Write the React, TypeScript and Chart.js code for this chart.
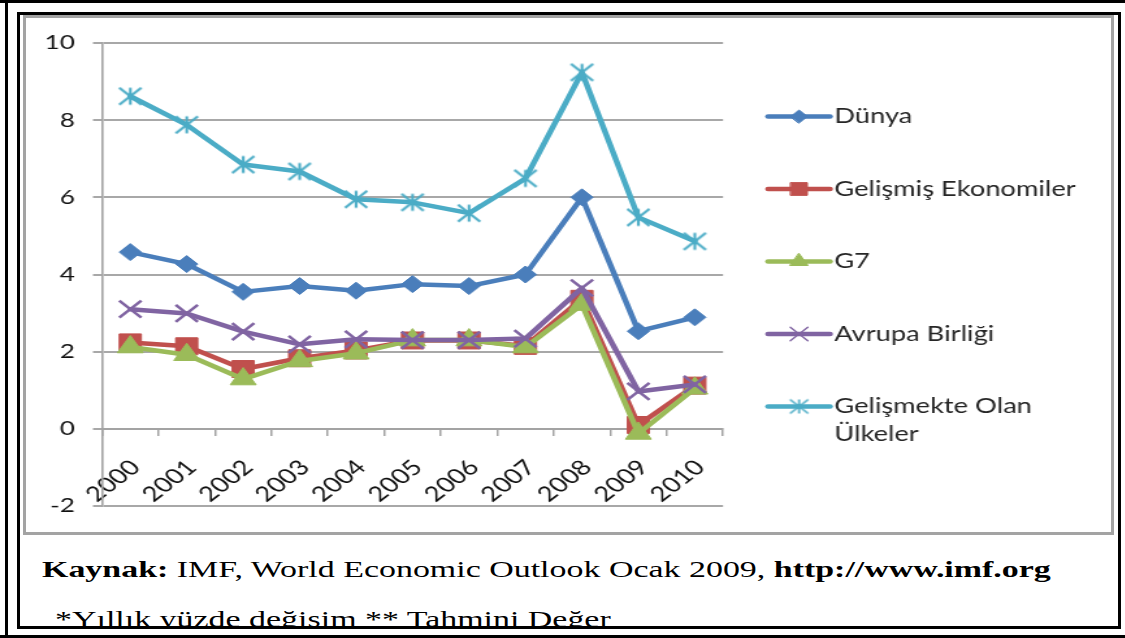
import React, { useEffect, useRef } from "react";
import { Chart, registerables } from "chart.js";
import { drawPoint } from "chart.js/helpers";

Chart.register(...registerables);

// Yıllık büyüme oranları (%), 2000–2010
const years = ["2000", "2001", "2002", "2003", "2004", "2005", "2006", "2007", "2008", "2009", "2010"];
const dunya = [4.58, 4.27, 3.55, 3.7, 3.58, 3.75, 3.7, 4.0, 6.0, 2.53, 2.89];
const gelismis = [2.24, 2.14, 1.55, 1.83, 2.03, 2.29, 2.29, 2.15, 3.37, 0.1, 1.12];
const g7 = [2.12, 1.92, 1.29, 1.76, 1.96, 2.3, 2.3, 2.12, 3.22, -0.12, 1.05];
const avrupa = [3.1, 2.99, 2.52, 2.19, 2.32, 2.3, 2.3, 2.34, 3.65, 0.97, 1.15];
const gelismekte = [8.62, 7.88, 6.85, 6.67, 5.95, 5.87, 5.59, 6.49, 9.24, 5.48, 4.86];
const yTicks = [-2, 0, 2, 4, 6, 8, 10];

const seriesNames = ["Dünya", "Gelişmiş Ekonomiler", "G7", "Avrupa Birliği", "Gelişmekte Olan Ülkeler"];
const legendLines = [["Dünya"], ["Gelişmiş Ekonomiler"], ["G7"], ["Avrupa Birliği"], ["Gelişmekte Olan", "Ülkeler"]];
const colors = ["#4A7EBB", "#C0504D", "#9BBB59", "#8064A2", "#4BACC6"];

const FONT = "Lato, Carlito, Calibri, sans-serif";
const CHART_SX = 1.3; // horizontal stretch of the embedded chart picture
const TEXT_SX = 1.475; // horizontal stretch of the source lines
const CW = 835;
const CH = 515;

function makeStar(color: string, half: number, lw: number): HTMLCanvasElement {
  const size = Math.ceil(half * 2 + lw * 2);
  const c = document.createElement("canvas");
  c.width = size;
  c.height = size;
  const g = c.getContext("2d")!;
  const m = size / 2;
  g.strokeStyle = color;
  g.lineWidth = lw;
  g.lineCap = "butt";
  g.beginPath();
  g.moveTo(m - half, m - half);
  g.lineTo(m + half, m + half);
  g.moveTo(m + half, m - half);
  g.lineTo(m - half, m + half);
  g.moveTo(m, m - half);
  g.lineTo(m, m + half);
  g.stroke();
  return c;
}

export default function App() {
  const canvasRef = useRef<HTMLCanvasElement | null>(null);

  useEffect(() => {
    const canvas = canvasRef.current;
    if (!canvas) return;

    const starBig = makeStar(colors[4], 8.5, 2.2);
    const starSmall = makeStar(colors[4], 7, 1.6);

    const pointStyles: any[] = ["rectRot", "rect", "triangle", "crossRot", starBig];
    const pointRadii = [8.5, 12, 11.5, 12, 10];
    const pointBorders = [1, 1, 1, 2.5, 1];

    const legendMarkers = [
      { style: "rectRot", radius: 6.5, borderWidth: 1 },
      { style: "rect", radius: 9, borderWidth: 1 },
      { style: "triangle", radius: 8, borderWidth: 1 },
      { style: "crossRot", radius: 9.5, borderWidth: 1.4 },
      { style: starSmall, radius: 8, borderWidth: 0 },
    ];

    const series = [dunya, gelismis, g7, avrupa, gelismekte];

    const sideLegend = {
      id: "sideLegend",
      afterDraw(chart: any) {
        const { ctx, chartArea } = chart;
        const x0 = chartArea.right + 34.6;
        const x1 = chartArea.right + 82.3;
        const tx = chartArea.right + 85.5;
        chart.data.datasets.forEach((ds: any, i: number) => {
          const y = chartArea.top + 73.5 + i * 72.5;
          const color = ds.borderColor as string;
          ctx.save();
          ctx.strokeStyle = color;
          ctx.fillStyle = color;
          ctx.lineWidth = 4.5;
          ctx.lineCap = "round";
          ctx.beginPath();
          ctx.moveTo(x0, y);
          ctx.lineTo(x1, y);
          ctx.stroke();
          const mk = legendMarkers[i];
          ctx.lineWidth = mk.borderWidth;
          drawPoint(
            ctx,
            { pointStyle: mk.style as any, radius: mk.radius, rotation: 0, borderWidth: mk.borderWidth },
            (x0 + x1) / 2,
            y
          );
          ctx.fillStyle = "#262626";
          ctx.font = `21px ${FONT}`;
          ctx.textAlign = "left";
          ctx.textBaseline = "middle";
          legendLines[i].forEach((t, k) => ctx.fillText(t, tx, y + k * 28));
          ctx.restore();
        });
      },
    };

    const chart = new Chart(canvas, {
      type: "line",
      data: {
        labels: years,
        datasets: series.map((data, i) => ({
          label: seriesNames[i],
          data,
          borderColor: colors[i],
          backgroundColor: colors[i],
          borderWidth: 4.5,
          borderJoinStyle: "round" as const,
          borderCapStyle: "round" as const,
          tension: 0,
          pointStyle: pointStyles[i],
          pointRadius: pointRadii[i],
          pointHoverRadius: pointRadii[i],
          pointBackgroundColor: colors[i],
          pointBorderColor: colors[i],
          pointBorderWidth: pointBorders[i],
          order: series.length - i,
          clip: false as any,
        })),
      },
      options: {
        responsive: false,
        animation: false,
        devicePixelRatio: 1,
        layout: { padding: { left: 0, top: 25.5, right: CW - 536.2, bottom: 24 } },
        plugins: {
          legend: { display: false },
          tooltip: { enabled: false },
          title: { display: false },
        },
        scales: {
          x: {
            type: "category",
            position: { y: 0 } as any,
            offset: true,
            afterFit: (s: any) => {
              s.height = 0;
            },
            grid: {
              offset: true,
              drawOnChartArea: false,
              drawTicks: true,
              tickLength: 6,
              color: "#a3a3a3",
              lineWidth: 1.5,
            },
            border: { display: true, color: "#a3a3a3", width: 2 },
            ticks: {
              autoSkip: false,
              minRotation: 45,
              maxRotation: 45,
              padding: 20,
              labelOffset: 4,
              color: "#111",
              font: { family: FONT, size: 21 },
            },
          },
          y: {
            type: "linear",
            min: -2,
            max: 10,
            afterFit: (s: any) => {
              s.width = 58.5;
            },
            afterBuildTicks: (s: any) => {
              s.ticks = yTicks.map((v) => ({ value: v }));
            },
            grid: {
              color: "#a8a8a8",
              lineWidth: 2,
              drawTicks: true,
              tickLength: 7,
            },
            border: { display: true, color: "#a3a3a3", width: 1.6 },
            ticks: {
              padding: 14,
              color: "#111",
              font: { family: FONT, size: 20 },
            },
          },
        },
      },
      plugins: [sideLegend],
    });

    return () => chart.destroy();
  }, []);

  const serif = '"Liberation Serif", "Times New Roman", serif';

  return (
    <div
      style={{
        position: "absolute",
        left: 0,
        top: 0,
        width: 1125,
        height: 638,
        overflow: "hidden",
        background: "#fff",
      }}
    >
      {/* source lines under the chart */}
      <div style={{ position: "absolute", left: 0, top: 0, width: 1125, height: 629, overflow: "hidden" }}>
        <div
          style={{
            position: "absolute",
            left: 42,
            top: 557.7,
            whiteSpace: "nowrap",
            font: `23px ${serif}`,
            lineHeight: "23px",
            color: "#000",
            transform: `scaleX(${TEXT_SX})`,
            transformOrigin: "0 0",
          }}
        >
          <b>Kaynak:</b> IMF, World Economic Outlook Ocak 2009, <b>http://www.imf.org</b>
        </div>
        <div
          style={{
            position: "absolute",
            left: 55,
            top: 607.7,
            whiteSpace: "nowrap",
            font: `23px ${serif}`,
            lineHeight: "23px",
            color: "#000",
            transform: `scaleX(${TEXT_SX})`,
            transformOrigin: "0 0",
          }}
        >
          *Yıllık yüzde değişim ** Tahmini Değer
        </div>
      </div>

      {/* outer frame */}
      <div style={{ position: "absolute", left: 0, top: 0, width: 1125, height: 3, background: "#000" }} />
      <div style={{ position: "absolute", left: 0, top: 635, width: 1125, height: 3, background: "#000" }} />
      <div style={{ position: "absolute", left: 5, top: 0, width: 3, height: 638, background: "#000" }} />

      {/* inner frame */}
      <div
        style={{
          position: "absolute",
          left: 17,
          top: 12,
          width: 1104,
          height: 617,
          border: "3px solid #000",
          boxSizing: "border-box",
        }}
      />

      {/* chart box */}
      <div
        style={{
          position: "absolute",
          left: 23,
          top: 15,
          width: 1091,
          height: 520,
          border: "3px solid #a3a3a3",
          boxSizing: "border-box",
        }}
      />

      <div
        style={{
          position: "absolute",
          left: 26,
          top: 17,
          width: CW,
          height: CH,
          transform: `scaleX(${CHART_SX})`,
          transformOrigin: "0 0",
        }}
      >
        <canvas ref={canvasRef} width={CW} height={CH} style={{ display: "block" }} />
      </div>
    </div>
  );
}
